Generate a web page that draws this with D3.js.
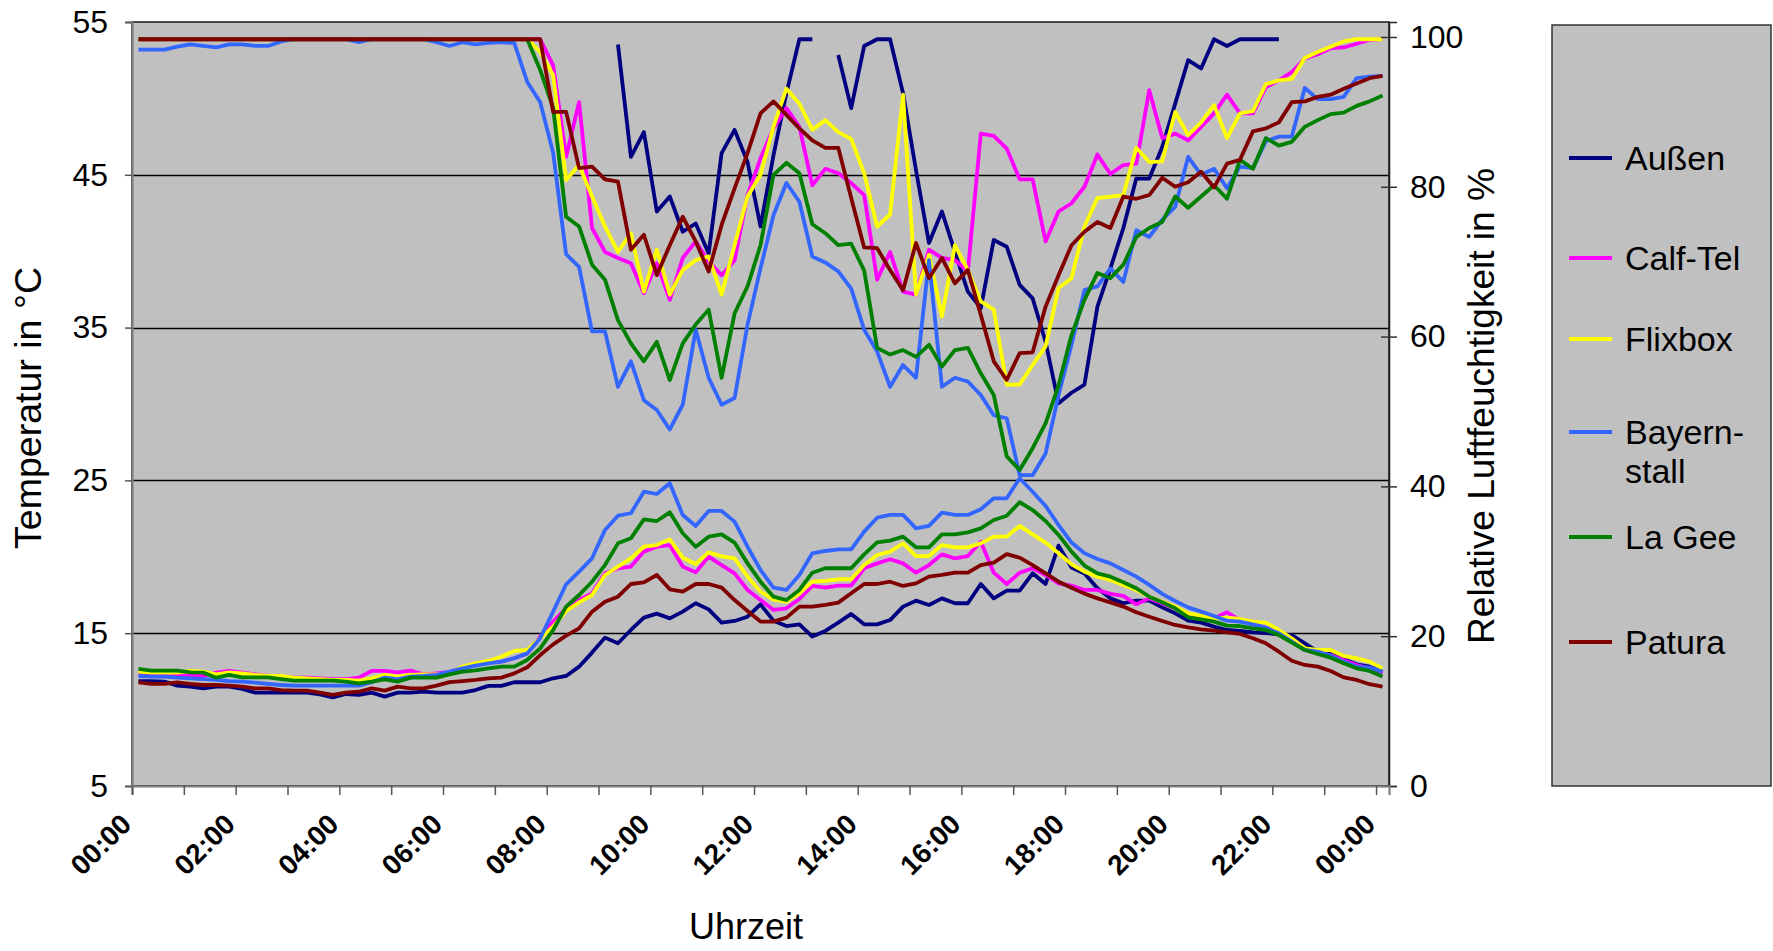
<!DOCTYPE html>
<html><head><meta charset="utf-8">
<script src="https://cdn.jsdelivr.net/npm/d3@7"></script>
<style>
body{margin:0;background:#fff}
svg{display:block}
text{font-family:"Liberation Sans",Arial,sans-serif;fill:#000}
</style>
</head><body><svg id="c" width="1773" height="951"></svg>
<script>
const categories = ["00:00","00:15","00:30","00:45","01:00","01:15","01:30","01:45","02:00","02:15","02:30","02:45","03:00","03:15","03:30","03:45","04:00","04:15","04:30","04:45","05:00","05:15","05:30","05:45","06:00","06:15","06:30","06:45","07:00","07:15","07:30","07:45","08:00","08:15","08:30","08:45","09:00","09:15","09:30","09:45","10:00","10:15","10:30","10:45","11:00","11:15","11:30","11:45","12:00","12:15","12:30","12:45","13:00","13:15","13:30","13:45","14:00","14:15","14:30","14:45","15:00","15:15","15:30","15:45","16:00","16:15","16:30","16:45","17:00","17:15","17:30","17:45","18:00","18:15","18:30","18:45","19:00","19:15","19:30","19:45","20:00","20:15","20:30","20:45","21:00","21:15","21:30","21:45","22:00","22:15","22:30","22:45","23:00","23:15","23:30","23:45","00:00"];
const tickLabels = ["00:00","02:00","04:00","06:00","08:00","10:00","12:00","14:00","16:00","18:00","20:00","22:00","00:00"];
const tempTicks = [5,15,25,35,45,55];
const humTicks = [0,20,40,60,80,100];
const seriesNames = ["Außen","Calf-Tel","Flixbox","Bayern-\nstall","La Gee","Patura"];
const seriesColors = ["#000080","#FF00FF","#FFFF00","#3366FF","#008000","#800000"];

const tempAussen = [11.87,11.87,11.83,11.57,11.50,11.39,11.50,11.50,11.35,11.11,11.11,11.11,11.11,11.11,11.00,10.80,11.02,10.96,11.11,10.85,11.11,11.11,11.17,11.11,11.11,
11.11,11.28,11.55,11.55,11.79,11.79,11.79,12.05,12.20,12.81,13.73,14.71,14.34,15.21,16.02,16.28,15.97,16.41,16.96,16.56,15.69,15.80,16.08,16.89,15.82,
15.47,15.58,14.78,15.15,15.69,16.26,15.58,15.58,15.86,16.74,17.13,16.85,17.28,16.96,16.96,18.22,17.28,17.78,17.78,18.92,18.22,20.73,19.30,18.90,
17.94,17.28,16.96,17.13,17.13,16.69,16.30,15.82,15.69,15.43,15.21,15.15,15.06,15.00,14.93,14.88,14.34,13.79,13.64,13.31,12.96,12.81,12.48];
const tempCalfTel = [12.31,12.27,12.27,12.27,12.20,12.20,12.42,12.53,12.42,12.31,12.20,12.16,12.09,12.09,12.05,12.00,12.00,12.09,12.53,12.53,12.44,12.55,12.31,12.37,12.45,
12.70,12.92,13.07,13.14,13.36,13.68,14.77,15.76,16.63,17.17,17.61,18.92,19.25,19.36,20.34,20.66,20.77,19.36,18.98,20.01,19.46,18.92,17.83,17.17,16.52,
16.63,17.24,18.09,17.98,18.11,18.11,19.25,19.57,19.84,19.57,18.96,19.46,20.16,19.90,20.05,20.99,18.96,18.22,18.96,19.25,18.81,18.26,18.11,17.83,
17.83,17.57,17.44,16.89,17.28,16.96,16.63,16.19,16.08,15.97,16.37,15.86,15.58,15.36,15.06,14.56,13.90,13.68,13.57,13.25,12.92,12.70,12.37];
const tempFlixbox = [12.48,12.42,12.42,12.42,12.53,12.48,12.31,12.44,12.37,12.27,12.20,12.20,12.09,12.05,12.00,11.94,11.94,11.89,12.05,12.27,12.16,12.27,12.31,12.31,12.37,
12.81,13.03,13.20,13.46,13.84,13.90,14.67,15.43,16.45,17.02,17.50,18.81,19.36,19.90,20.66,20.77,21.14,19.94,19.53,20.29,20.03,19.90,18.70,17.72,17.20,
17.06,17.61,18.37,18.42,18.53,18.53,19.46,20.12,20.34,20.88,20.05,20.05,20.77,20.62,20.62,20.88,21.32,21.32,22.02,21.47,20.93,20.23,19.51,19.03,
18.70,18.48,18.16,17.83,17.39,17.06,16.74,16.30,16.13,15.97,16.02,15.93,15.76,15.69,15.21,14.67,14.01,13.90,13.90,13.51,13.36,13.14,12.70];
const tempBayern = [12.20,12.16,12.16,12.09,12.05,12.00,11.94,11.87,11.83,11.76,11.68,11.61,11.57,11.57,11.57,11.57,11.57,11.57,11.79,12.09,12.00,12.16,12.20,12.27,12.48,
12.70,12.88,13.03,13.14,13.36,13.68,14.67,16.41,18.20,19.03,19.90,21.76,22.69,22.85,24.26,24.11,24.81,22.74,22.02,23.00,23.00,22.30,20.66,19.14,17.98,
17.83,18.81,20.23,20.38,20.49,20.49,21.65,22.56,22.74,22.74,21.86,22.02,22.89,22.74,22.74,23.11,23.83,23.83,25.14,24.26,23.33,22.08,20.93,20.23,
19.86,19.57,19.14,18.70,18.16,17.57,17.11,16.69,16.41,16.13,15.82,15.76,15.58,15.36,14.99,14.45,13.90,13.79,13.53,13.14,12.81,12.75,12.48];
const tempLaGee = [12.66,12.55,12.55,12.55,12.44,12.42,12.09,12.27,12.11,12.11,12.11,12.00,11.89,11.89,11.89,11.89,11.83,11.72,11.83,11.98,11.83,12.09,12.09,12.09,12.30,
12.48,12.57,12.70,12.81,12.81,13.25,14.01,15.21,16.74,17.50,18.37,19.46,20.88,21.21,22.45,22.34,22.91,21.54,20.66,21.32,21.47,20.93,19.57,18.37,17.39,
17.17,17.83,18.96,19.25,19.25,19.25,20.16,20.95,21.06,21.32,20.62,20.62,21.47,21.47,21.60,21.86,22.41,22.69,23.57,23.06,22.34,21.43,20.34,19.43,
18.92,18.70,18.33,17.94,17.39,17.02,16.63,16.04,15.91,15.76,15.50,15.47,15.32,15.21,14.88,14.38,13.90,13.64,13.40,13.03,12.70,12.53,12.16];
const tempPatura = [11.78,11.68,11.68,11.78,11.68,11.61,11.61,11.57,11.50,11.39,11.39,11.28,11.24,11.24,11.11,10.96,11.11,11.17,11.39,11.24,11.50,11.39,11.39,11.57,11.80,
11.87,11.94,12.05,12.09,12.37,12.77,13.57,14.27,14.84,15.32,16.41,17.06,17.39,18.22,18.33,18.81,17.87,17.72,18.22,18.22,17.98,17.17,16.45,15.76,15.76,
16.02,16.74,16.74,16.85,17.00,17.61,18.22,18.22,18.37,18.09,18.26,18.70,18.81,18.96,18.96,19.46,19.62,20.18,19.94,19.46,18.92,18.37,17.98,17.59,
17.28,17.02,16.74,16.37,16.08,15.80,15.54,15.38,15.25,15.17,15.06,14.95,14.67,14.34,13.79,13.20,12.92,12.81,12.53,12.11,11.94,11.66,11.50];

const humAussen = [null,null,null,null,null,null,null,null,null,null,null,null,null,null,null,null,null,null,null,null,null,null,null,null,null,null,null,null,null,null,null,null,null,null,null,null,null,
99.0,84.0,87.3,76.7,78.7,74.0,75.1,71.1,84.5,87.6,83.3,74.7,84.2,92.5,99.7,99.7,null,97.6,90.5,98.8,99.7,99.7,92.5,82.2,72.5,76.7,71.3,66.0,63.8,72.9,72.0,66.9,65.1,59.3,51.1,52.5,53.6,
64.0,69.1,74.5,81.1,81.1,85.3,91.1,96.9,95.8,99.7,98.8,99.7,99.7,99.7,99.7,null,null,null,null,null,null,null,null];
const humCalfTel = [99.7,99.7,99.7,99.7,99.7,99.7,99.7,99.7,99.7,99.7,99.7,99.7,99.7,99.7,99.7,99.7,99.7,99.7,99.7,99.7,99.7,99.7,99.7,99.7,99.7,99.7,99.7,99.7,99.7,99.7,99.7,99.7,
96.2,84.0,91.3,74.5,71.3,70.5,69.8,65.8,69.8,64.9,70.5,72.7,70.0,68.2,70.2,78.9,83.8,87.8,90.5,88.0,
80.2,82.4,81.8,80.5,78.9,67.6,71.3,66.0,65.6,71.6,70.5,70.2,68.7,87.1,86.8,85.1,81.0,81.0,72.7,76.7,
77.8,80.0,84.3,81.7,82.9,83.1,92.9,86.5,87.1,86.2,88.0,89.8,92.3,89.8,89.8,93.3,94.2,95.3,97.1,97.7,
98.5,98.6,99.1,99.6,99.7];
const humFlixbox = [99.7,99.7,99.7,99.7,99.7,99.7,99.7,99.7,99.7,99.7,99.7,99.7,99.7,99.7,99.7,99.7,99.7,99.7,99.7,99.7,99.7,99.7,99.7,99.7,99.7,99.7,99.7,99.7,99.7,99.7,99.7,
98.0,94.9,80.9,82.9,78.7,74.7,71.3,73.8,66.0,71.6,65.6,68.9,70.2,70.7,65.6,72.2,78.7,81.6,88.0,93.1,
91.1,87.6,88.9,87.3,86.4,81.8,74.7,76.3,92.3,65.6,70.9,62.7,72.2,68.9,64.7,63.6,53.6,53.6,56.2,58.7,
66.5,67.8,74.7,78.5,78.7,78.9,85.2,83.3,83.4,90.0,86.9,88.6,90.9,86.5,89.8,90.1,93.7,94.2,94.4,97.2,
98.0,98.7,99.4,99.7,99.7,99.7];
const humBayern = [98.3,98.3,98.3,98.7,99.0,98.8,98.6,99.0,99.0,98.8,98.8,99.4,99.7,99.7,99.7,99.7,99.7,99.3,99.7,99.7,
99.7,99.7,99.7,99.3,98.8,99.3,99.0,99.2,99.3,99.2,94.0,91.3,84.5,71.0,69.3,60.7,60.7,53.3,56.7,51.5,
50.2,47.6,50.9,60.9,54.5,50.9,51.8,61.6,69.1,76.2,80.5,78.0,70.7,69.9,68.7,66.4,60.9,58.0,53.3,56.2,
54.5,70.2,53.3,54.5,54.0,52.2,49.5,49.1,41.5,41.5,44.4,52.2,58.9,66.2,66.7,69.1,67.3,74.2,73.3,75.6,
77.3,84.0,81.6,82.4,79.8,82.7,82.5,86.1,86.7,86.7,93.2,91.7,91.7,92.0,94.5,94.7,94.8];
const humLaGee = [99.7,99.7,99.7,99.7,99.7,99.7,99.7,99.7,99.7,99.7,99.7,99.7,99.7,99.7,99.7,99.7,99.7,99.7,99.7,99.7,99.7,99.7,99.7,99.7,99.7,99.7,99.7,99.7,99.7,99.7,99.7,
95.6,90.5,76.0,74.7,69.6,67.6,62.2,59.1,56.7,59.3,54.2,59.1,61.6,63.6,54.5,63.1,66.7,72.2,81.6,83.2,
81.8,75.0,73.8,72.2,72.4,68.8,58.5,57.6,58.2,57.3,58.9,56.0,58.2,58.5,55.1,52.2,44.0,42.2,45.1,48.4,
53.5,60.2,64.9,68.5,67.8,69.6,73.3,74.5,75.3,78.7,77.2,78.7,80.2,78.4,83.6,82.4,86.5,85.5,86.0,88.0,
88.9,89.7,89.9,90.8,91.4,92.2];
const humPatura = [99.7,99.7,99.7,99.7,99.7,99.7,99.7,99.7,99.7,99.7,99.7,99.7,99.7,99.7,99.7,99.7,99.7,99.7,99.7,99.7,99.7,99.7,99.7,99.7,99.7,99.7,99.7,99.7,99.7,99.7,99.7,99.7,
90.0,90.0,82.5,82.7,81.0,80.7,71.6,73.6,68.2,72.2,76.0,72.7,68.7,74.9,79.8,84.5,89.8,91.4,89.6,87.8,
86.2,85.2,85.2,78.5,71.9,71.8,68.9,66.2,72.5,67.8,70.5,67.1,68.9,62.9,56.7,54.2,57.8,57.9,64.0,68.2,
72.2,74.0,75.3,74.5,78.7,78.4,78.9,81.2,80.0,80.6,82.0,79.9,83.1,83.6,87.4,87.8,88.6,91.3,91.4,92.0,
92.3,93.1,93.8,94.5,94.8];

const tempSeries = [tempAussen,tempCalfTel,tempFlixbox,tempBayern,tempLaGee,tempPatura];
const humSeries = [humAussen,humCalfTel,humFlixbox,humBayern,humLaGee,humPatura];

const plot = {l:132, r:1389, t:22, b:786};
const svg = d3.select("#c");

const x = d3.scaleBand().domain(d3.range(categories.length)).range([plot.l, plot.r]).paddingInner(0).paddingOuter(0);
const bw = x.bandwidth();
const xEdge = d3.scaleLinear().domain([0, categories.length]).range([plot.l, plot.r]);
const yT = d3.scaleLinear().domain([5,55]).range([plot.b, plot.t]);
const yH = d3.scaleLinear().domain([0,102]).range([plot.b, plot.t]);

// plot background
svg.append("rect").attr("x",plot.l).attr("y",plot.t).attr("width",plot.r-plot.l).attr("height",plot.b-plot.t).attr("fill","#c0c0c0");

// gridlines
svg.append("g").selectAll("line").data(tempTicks.filter(v=>v>5 && v<55)).join("line")
  .attr("x1",plot.l).attr("x2",plot.r).attr("y1",d=>Math.round(yT(d))+0.5).attr("y2",d=>Math.round(yT(d))+0.5)
  .attr("stroke","#000").attr("stroke-width",1.3);

// lines
const lineT = d3.line().defined(d=>d!=null).x((d,i)=>x(i)+bw/2).y(d=>yT(d));
const lineH = d3.line().defined(d=>d!=null).x((d,i)=>x(i)+bw/2).y(d=>yH(d));
const lg = svg.append("g").attr("fill","none").attr("stroke-width",3.8).attr("stroke-linejoin","round");
tempSeries.forEach((s,k)=>lg.append("path").attr("d",lineT(s)).attr("stroke",seriesColors[k]));
humSeries.forEach((s,k)=>lg.append("path").attr("d",lineH(s)).attr("stroke",seriesColors[k]));

// plot border
svg.append("rect").attr("x",plot.l).attr("y",plot.t).attr("width",plot.r-plot.l).attr("height",plot.b-plot.t)
  .attr("fill","none").attr("stroke","#222").attr("stroke-width",1.6);

// left axis
const axL = svg.append("g").attr("transform",`translate(${plot.l},0)`)
  .call(d3.axisLeft(yT).tickValues(tempTicks).tickSize(7).tickPadding(17).tickFormat(d3.format("d")));
axL.select(".domain").attr("stroke","#808080").attr("stroke-width",2.2);
axL.selectAll(".tick line").attr("stroke","#555").attr("stroke-width",1.5);
axL.selectAll(".tick text").attr("font-size",32).attr("font-family",'"Liberation Sans",Arial,sans-serif');

// right axis
const axR = svg.append("g").attr("transform",`translate(${plot.r},0)`)
  .call(d3.axisRight(yH).tickValues(humTicks).tickSize(8).tickPadding(13).tickFormat(d3.format("d")));
axR.select(".domain").attr("stroke","#222").attr("stroke-width",1.6);
axR.selectAll(".tick line").attr("x1",-8).attr("stroke","#333").attr("stroke-width",1.5);
axR.selectAll(".tick text").attr("font-size",32).attr("font-family",'"Liberation Sans",Arial,sans-serif');

// bottom axis (ticks every hour at category boundaries)
const axB = svg.append("g").attr("transform",`translate(0,${plot.b})`)
  .call(d3.axisBottom(xEdge).tickValues(d3.range(0, categories.length, 4)).tickSize(9).tickFormat(""));
axB.select(".domain").attr("stroke","#808080").attr("stroke-width",2.2);
axB.selectAll(".tick line").attr("stroke","#555").attr("stroke-width",1.5);

// x tick labels (every 2 hours)
svg.append("g").selectAll("text").data(tickLabels).join("text")
  .attr("transform",(d,k)=>`translate(${xEdge(k*8)+1},826) rotate(-45)`)
  .attr("text-anchor","end").attr("font-size",28).attr("font-weight","bold")
  .text(d=>d);

// axis titles
svg.append("text").attr("transform","translate(41,408) rotate(-90)").attr("text-anchor","middle")
  .attr("font-size",36).attr("textLength",282).attr("lengthAdjust","spacingAndGlyphs").text("Temperatur in °C");
svg.append("text").attr("transform","translate(1494,406) rotate(-90)").attr("text-anchor","middle")
  .attr("font-size",36).attr("textLength",476).attr("lengthAdjust","spacingAndGlyphs").text("Relative Luftfeuchtigkeit in %");
svg.append("text").attr("x",746).attr("y",939).attr("text-anchor","middle")
  .attr("font-size",36).text("Uhrzeit");

// legend
const leg = svg.append("g");
leg.append("rect").attr("x",1552).attr("y",25).attr("width",219).attr("height",761)
  .attr("fill","#c0c0c0").attr("stroke","#333").attr("stroke-width",1.5);
const legY = [158,258,339,432,537,642];
seriesNames.forEach((name,k)=>{
  leg.append("line").attr("x1",1569).attr("x2",1612).attr("y1",legY[k]).attr("y2",legY[k])
    .attr("stroke",seriesColors[k]).attr("stroke-width",4);
  const t = leg.append("text").attr("x",1625).attr("y",legY[k]).attr("font-size",34);
  name.split("\n").forEach((part,j)=>{
    t.append("tspan").attr("x",1625).attr("dy", j===0 ? "0.36em" : "1.13em").text(part);
  });
});
</script>
</body></html>
